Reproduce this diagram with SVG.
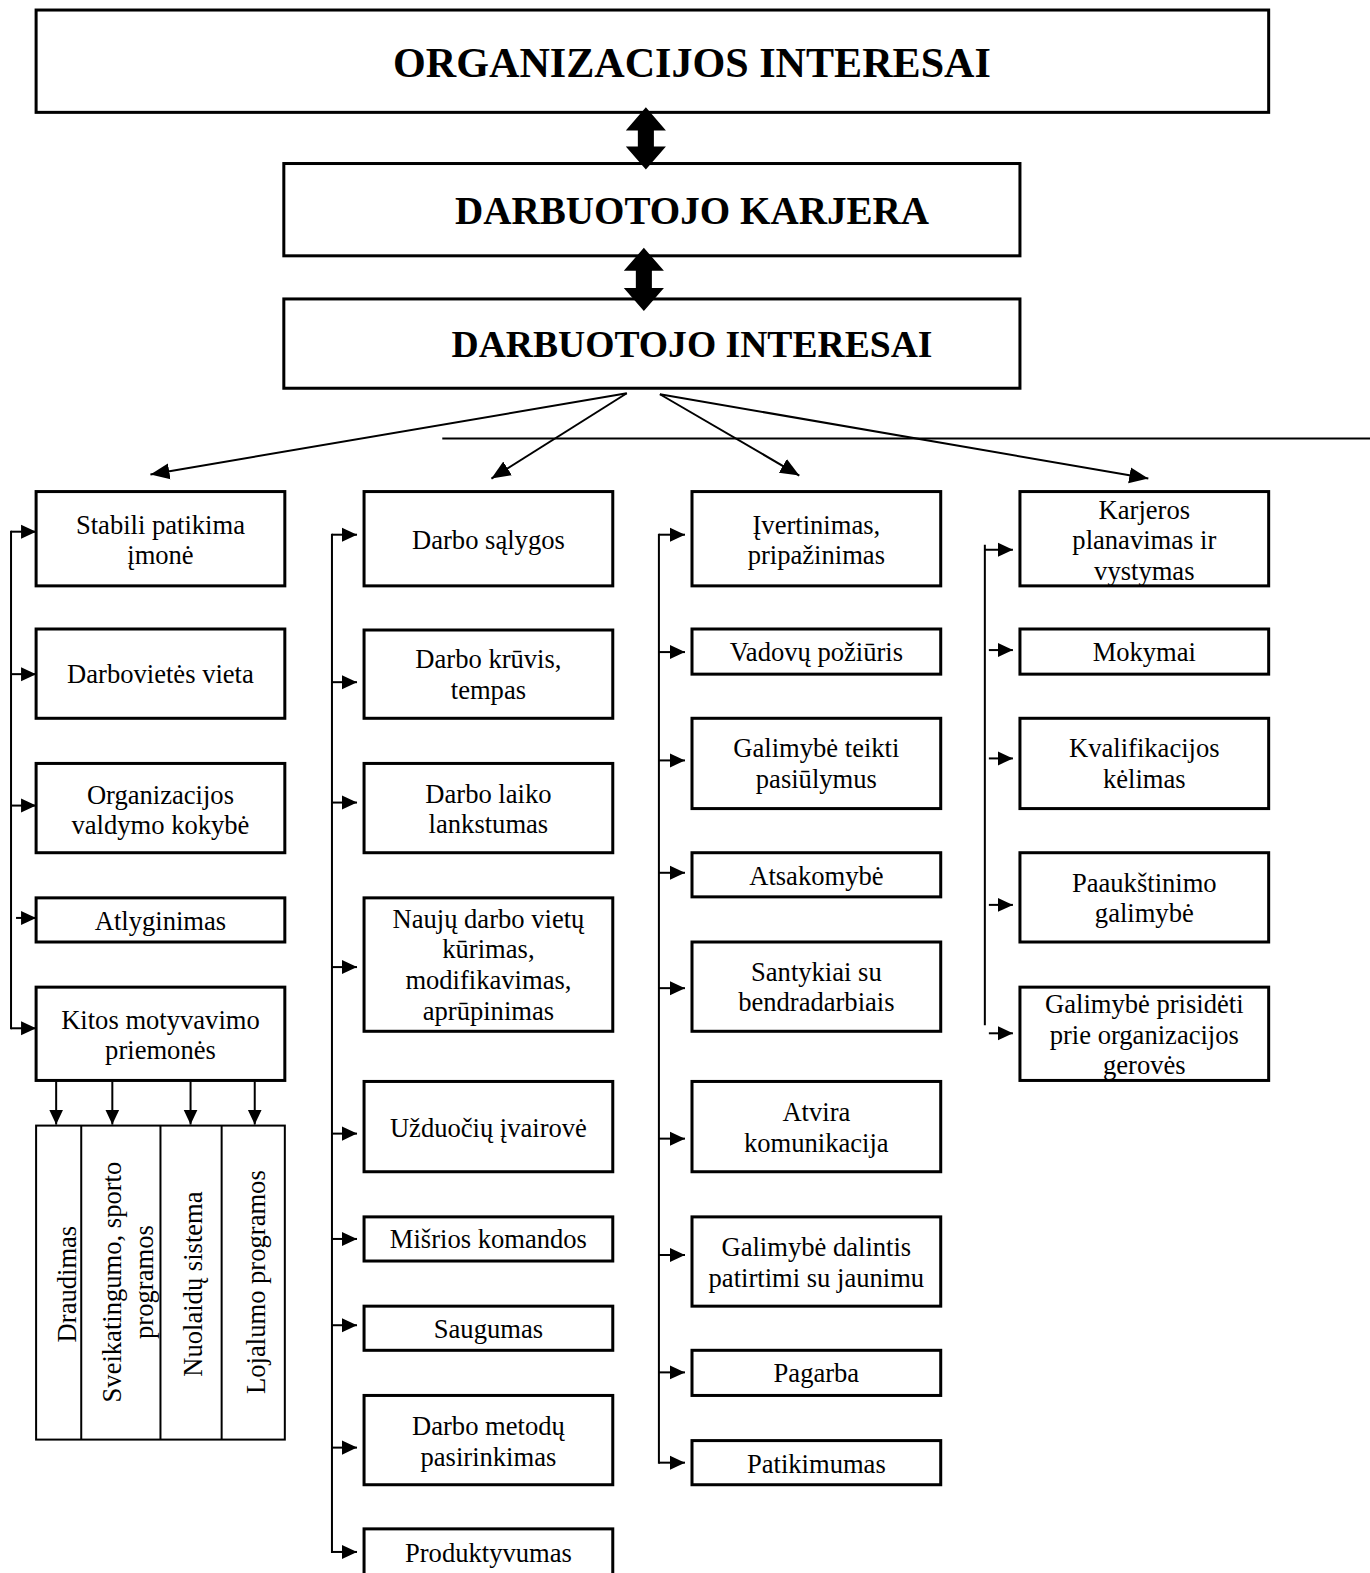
<svg xmlns="http://www.w3.org/2000/svg" width="1370" height="1573" viewBox="0 0 1370 1573">
<style>
.box{fill:#fff;stroke:#000;stroke-width:3}
.t{font-family:"Liberation Serif","Times New Roman",serif;font-size:26.5px;text-anchor:middle;fill:#000}
.h{font-family:"Liberation Serif","Times New Roman",serif;font-weight:bold;text-anchor:middle;fill:#000}
.ln{stroke:#000;stroke-width:2;fill:none}
.br{stroke:#000;stroke-width:2;fill:none}
</style>
<defs>
<marker id="sa" markerUnits="userSpaceOnUse" markerWidth="16" markerHeight="16" refX="15" refY="8" orient="auto"><path d="M0,1 L15,8 L0,15 z" fill="#000"/></marker>
<marker id="da" markerUnits="userSpaceOnUse" markerWidth="20" markerHeight="18" refX="19" refY="9" orient="auto"><path d="M0,1 L19,9 L0,17 z" fill="#000"/></marker>
</defs>
<rect width="1370" height="1573" fill="#fff"/>
<g transform="scale(1.0029,1.0032)">
<g id="n-org"><rect class="box" x="36" y="10" width="1229" height="102"/><text class="h" x="690" y="77" font-size="42">ORGANIZACIJOS INTERESAI</text></g>
<g id="n-karjera"><rect class="box" x="283" y="163" width="734" height="92"/><text class="h" x="690" y="223" font-size="39">DARBUOTOJO KARJERA</text></g>
<g id="n-interesai"><rect class="box" x="283" y="298" width="734" height="89"/><text class="h" x="690" y="356" font-size="37.5">DARBUOTOJO INTERESAI</text></g>

<g id="connectors">
<path d="M644,107 L664,130 L652,130 L652,146 L664,146 L644,169 L624,146 L636,146 L636,130 L624,130 z" fill="#000"/>
<path d="M642,247 L662,270 L650,270 L650,287 L662,287 L642,310 L622,287 L634,287 L634,270 L622,270 z" fill="#000"/>
<line class="ln" x1="625" y1="392" x2="150" y2="473" marker-end="url(#da)"/>
<line class="ln" x1="625" y1="392" x2="490" y2="477" marker-end="url(#da)"/>
<line class="ln" x1="658" y1="393" x2="797" y2="474" marker-end="url(#da)"/>
<line class="ln" x1="658" y1="393" x2="1145" y2="477" marker-end="url(#da)"/>
<line class="ln" x1="441" y1="437" x2="1370" y2="437"/>
<!-- col1 bracket -->
<line class="br" x1="11" y1="529" x2="11" y2="1026"/>
<line class="br" x1="11" y1="530" x2="36" y2="530" marker-end="url(#sa)"/>
<line class="br" x1="11" y1="672" x2="36" y2="672" marker-end="url(#sa)"/>
<line class="br" x1="11" y1="803" x2="36" y2="803" marker-end="url(#sa)"/>
<line class="br" x1="16" y1="915" x2="36" y2="915" marker-end="url(#sa)"/>
<line class="br" x1="11" y1="1025" x2="36" y2="1025" marker-end="url(#sa)"/>
<!-- down arrows -->
<line class="br" x1="56" y1="1078" x2="56" y2="1121" marker-end="url(#sa)"/>
<line class="br" x1="112" y1="1078" x2="112" y2="1121" marker-end="url(#sa)"/>
<line class="br" x1="190" y1="1078" x2="190" y2="1121" marker-end="url(#sa)"/>
<line class="br" x1="254" y1="1078" x2="254" y2="1121" marker-end="url(#sa)"/>
<!-- col2 bracket -->
<line class="br" x1="331" y1="532" x2="331" y2="1548"/>
<line class="br" x1="331" y1="533" x2="356" y2="533" marker-end="url(#sa)"/>
<line class="br" x1="331" y1="680" x2="356" y2="680" marker-end="url(#sa)"/>
<line class="br" x1="331" y1="800" x2="356" y2="800" marker-end="url(#sa)"/>
<line class="br" x1="331" y1="964" x2="356" y2="964" marker-end="url(#sa)"/>
<line class="br" x1="331" y1="1130" x2="356" y2="1130" marker-end="url(#sa)"/>
<line class="br" x1="331" y1="1235" x2="356" y2="1235" marker-end="url(#sa)"/>
<line class="br" x1="331" y1="1321" x2="356" y2="1321" marker-end="url(#sa)"/>
<line class="br" x1="331" y1="1443" x2="356" y2="1443" marker-end="url(#sa)"/>
<line class="br" x1="331" y1="1547" x2="356" y2="1547" marker-end="url(#sa)"/>
<!-- col3 bracket -->
<line class="br" x1="657" y1="532" x2="657" y2="1459"/>
<line class="br" x1="657" y1="533" x2="683" y2="533" marker-end="url(#sa)"/>
<line class="br" x1="657" y1="650" x2="683" y2="650" marker-end="url(#sa)"/>
<line class="br" x1="657" y1="758" x2="683" y2="758" marker-end="url(#sa)"/>
<line class="br" x1="657" y1="870" x2="683" y2="870" marker-end="url(#sa)"/>
<line class="br" x1="657" y1="985" x2="683" y2="985" marker-end="url(#sa)"/>
<line class="br" x1="657" y1="1135" x2="683" y2="1135" marker-end="url(#sa)"/>
<line class="br" x1="657" y1="1251" x2="683" y2="1251" marker-end="url(#sa)"/>
<line class="br" x1="657" y1="1368" x2="683" y2="1368" marker-end="url(#sa)"/>
<line class="br" x1="657" y1="1458" x2="683" y2="1458" marker-end="url(#sa)"/>
<!-- col4 bracket -->
<line class="br" x1="982" y1="543" x2="982" y2="1022"/>
<line class="br" x1="982" y1="548" x2="1010" y2="548" marker-end="url(#sa)"/>
<line class="br" x1="986" y1="648" x2="1010" y2="648" marker-end="url(#sa)"/>
<line class="br" x1="986" y1="756" x2="1010" y2="756" marker-end="url(#sa)"/>
<line class="br" x1="986" y1="902" x2="1010" y2="902" marker-end="url(#sa)"/>
<line class="br" x1="986" y1="1030" x2="1010" y2="1030" marker-end="url(#sa)"/>
</g>

<!-- Column 1 -->
<g id="n-stabili"><rect class="box" x="36" y="490" width="248" height="94"/><text class="t" x="160" y="532">Stabili patikima</text><text class="t" x="160" y="562">įmonė</text></g>
<g id="n-darbovietes"><rect class="box" x="36" y="627" width="248" height="89"/><text class="t" x="160" y="681">Darbovietės vieta</text></g>
<g id="n-valdymo"><rect class="box" x="36" y="761" width="248" height="89"/><text class="t" x="160" y="801">Organizacijos</text><text class="t" x="160" y="831">valdymo kokybė</text></g>
<g id="n-atlyginimas"><rect class="box" x="36" y="895" width="248" height="44"/><text class="t" x="160" y="927">Atlyginimas</text></g>
<g id="n-kitos"><rect class="box" x="36" y="984" width="248" height="93"/><text class="t" x="160" y="1026">Kitos motyvavimo</text><text class="t" x="160" y="1056">priemonės</text></g>
<g id="n-sub">
<rect x="36" y="1122" width="248" height="313" fill="#fff" stroke="#000" stroke-width="2"/>
<line class="br" x1="81" y1="1122" x2="81" y2="1435"/>
<line class="br" x1="160" y1="1122" x2="160" y2="1435"/>
<line class="br" x1="221" y1="1122" x2="221" y2="1435"/>
<text class="t" transform="translate(76,1280) rotate(-90)">Draudimas</text>
<text class="t" transform="translate(121,1278) rotate(-90)">Sveikatingumo, sporto</text>
<text class="t" transform="translate(153,1278) rotate(-90)">programos</text>
<text class="t" transform="translate(201,1280) rotate(-90)">Nuolaidų sistema</text>
<text class="t" transform="translate(264,1278) rotate(-90)">Lojalumo programos</text>
</g>

<!-- Column 2 -->
<g id="n-salygos"><rect class="box" x="363" y="490" width="248" height="94"/><text class="t" x="487" y="547">Darbo sąlygos</text></g>
<g id="n-kruvis"><rect class="box" x="363" y="628" width="248" height="88"/><text class="t" x="487" y="666">Darbo krūvis,</text><text class="t" x="487" y="697">tempas</text></g>
<g id="n-laiko"><rect class="box" x="363" y="761" width="248" height="89"/><text class="t" x="487" y="800">Darbo laiko</text><text class="t" x="487" y="830">lankstumas</text></g>
<g id="n-nauju"><rect class="box" x="363" y="895" width="248" height="133"/><text class="t" x="487" y="925">Naujų darbo vietų</text><text class="t" x="487" y="955">kūrimas,</text><text class="t" x="487" y="986">modifikavimas,</text><text class="t" x="487" y="1017">aprūpinimas</text></g>
<g id="n-uzduociu"><rect class="box" x="363" y="1078" width="248" height="90"/><text class="t" x="487" y="1133">Užduočių įvairovė</text></g>
<g id="n-misrios"><rect class="box" x="363" y="1213" width="248" height="44"/><text class="t" x="487" y="1244">Mišrios komandos</text></g>
<g id="n-saugumas"><rect class="box" x="363" y="1302" width="248" height="44"/><text class="t" x="487" y="1334">Saugumas</text></g>
<g id="n-metodu"><rect class="box" x="363" y="1391" width="248" height="89"/><text class="t" x="487" y="1430">Darbo metodų</text><text class="t" x="487" y="1461">pasirinkimas</text></g>
<g id="n-produktyvumas"><rect class="box" x="363" y="1524" width="248" height="60"/><text class="t" x="487" y="1557">Produktyvumas</text></g>

<!-- Column 3 -->
<g id="n-ivertinimas"><rect class="box" x="690" y="490" width="248" height="94"/><text class="t" x="814" y="532">Įvertinimas,</text><text class="t" x="814" y="562">pripažinimas</text></g>
<g id="n-vadovu"><rect class="box" x="690" y="627" width="248" height="45"/><text class="t" x="814" y="659">Vadovų požiūris</text></g>
<g id="n-teikti"><rect class="box" x="690" y="716" width="248" height="90"/><text class="t" x="814" y="755">Galimybė teikti</text><text class="t" x="814" y="785">pasiūlymus</text></g>
<g id="n-atsakomybe"><rect class="box" x="690" y="850" width="248" height="44"/><text class="t" x="814" y="882">Atsakomybė</text></g>
<g id="n-santykiai"><rect class="box" x="690" y="939" width="248" height="89"/><text class="t" x="814" y="978">Santykiai su</text><text class="t" x="814" y="1008">bendradarbiais</text></g>
<g id="n-atvira"><rect class="box" x="690" y="1078" width="248" height="90"/><text class="t" x="814" y="1117">Atvira</text><text class="t" x="814" y="1148">komunikacija</text></g>
<g id="n-dalintis"><rect class="box" x="690" y="1213" width="248" height="89"/><text class="t" x="814" y="1252">Galimybė dalintis</text><text class="t" x="814" y="1283">patirtimi su jaunimu</text></g>
<g id="n-pagarba"><rect class="box" x="690" y="1346" width="248" height="45"/><text class="t" x="814" y="1378">Pagarba</text></g>
<g id="n-patikimumas"><rect class="box" x="690" y="1436" width="248" height="44"/><text class="t" x="814" y="1468">Patikimumas</text></g>

<!-- Column 4 -->
<g id="n-karjeros"><rect class="box" x="1017" y="490" width="248" height="94"/><text class="t" x="1141" y="517">Karjeros</text><text class="t" x="1141" y="547">planavimas ir</text><text class="t" x="1141" y="578">vystymas</text></g>
<g id="n-mokymai"><rect class="box" x="1017" y="627" width="248" height="45"/><text class="t" x="1141" y="659">Mokymai</text></g>
<g id="n-kvalifikacijos"><rect class="box" x="1017" y="716" width="248" height="90"/><text class="t" x="1141" y="755">Kvalifikacijos</text><text class="t" x="1141" y="785">kėlimas</text></g>
<g id="n-paaukstinimo"><rect class="box" x="1017" y="850" width="248" height="89"/><text class="t" x="1141" y="889">Paaukštinimo</text><text class="t" x="1141" y="919">galimybė</text></g>
<g id="n-prisideti"><rect class="box" x="1017" y="984" width="248" height="93"/><text class="t" x="1141" y="1010">Galimybė prisidėti</text><text class="t" x="1141" y="1041">prie organizacijos</text><text class="t" x="1141" y="1071">gerovės</text></g>
</g>
</svg>
